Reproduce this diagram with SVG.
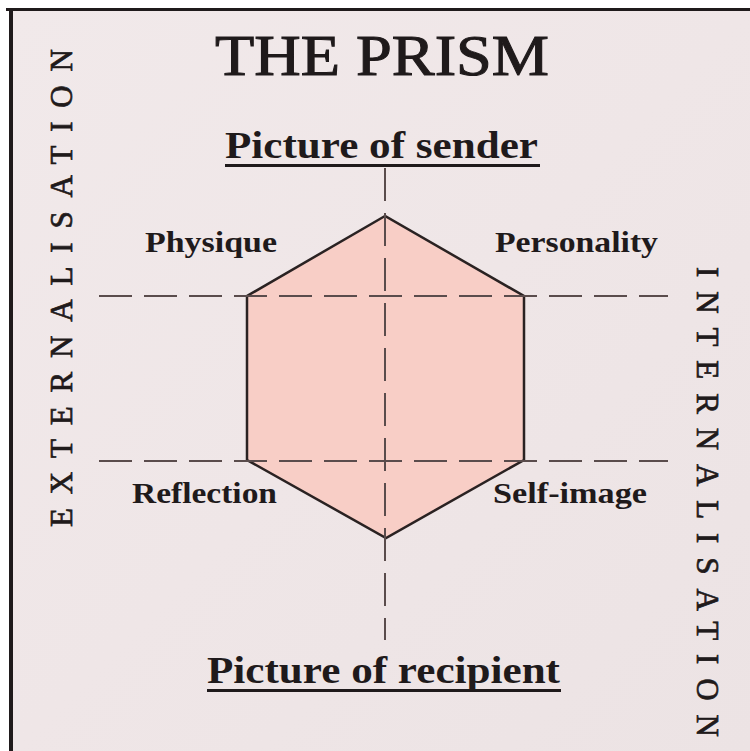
<svg xmlns="http://www.w3.org/2000/svg" width="750" height="751" viewBox="0 0 750 751">
  <style>
    .serif { font-family: "Liberation Serif", "Times New Roman", serif; fill: #1f1a1b; }
    .label { font-size: 29px; font-weight: bold; }
    .heading { font-size: 37px; font-weight: bold; }
    .side { font-size: 31px; stroke: #1f1a1b; stroke-width: 0.7; }
    .dash { stroke: #5a4c4c; stroke-width: 2; stroke-dasharray: 33 12; fill: none; }
    .rule { fill: #1f1a1b; }
  </style>
  <defs>
    <linearGradient id="bg" x1="0" y1="0" x2="1" y2="1">
      <stop offset="0" stop-color="#f1e9ea"/>
      <stop offset="0.5" stop-color="#efe6e7"/>
      <stop offset="1" stop-color="#ece3e4"/>
    </linearGradient>
  </defs>
  <rect x="0" y="0" width="750" height="751" fill="#ffffff"/>
  <rect x="10" y="9" width="740" height="742" fill="url(#bg)"/>
  <rect x="6" y="8" width="744" height="3" class="rule"/>
  <rect x="9" y="8" width="4" height="743" class="rule"/>

  <g id="title">
    <text class="serif" x="382" y="75" font-size="56" text-anchor="middle" textLength="334" lengthAdjust="spacingAndGlyphs" stroke="#1f1a1b" stroke-width="1">THE PRISM</text>
  </g>

  <g id="prism">
    <polygon points="385,216 247,296 247,460 386,538 524,460 524,296" fill="#f8cec6" stroke="#2a2222" stroke-width="2.5" stroke-linejoin="miter"/>
  </g>

  <g id="connectors">
    <line class="dash" x1="99" y1="296" x2="668" y2="296"/>
    <line class="dash" x1="99" y1="461" x2="668" y2="461"/>
    <line class="dash" x1="385" y1="168" x2="385" y2="640"/>
  </g>

  <g id="sender">
    <text class="serif heading" x="225" y="158" textLength="313" lengthAdjust="spacingAndGlyphs">Picture of sender</text>
    <rect x="225" y="164" width="315" height="3" class="rule"/>
  </g>
  <g id="recipient">
    <text class="serif heading" x="207" y="683" textLength="353" lengthAdjust="spacingAndGlyphs">Picture of recipient</text>
    <rect x="207" y="689" width="354" height="3" class="rule"/>
  </g>

  <g id="physique">
    <text class="serif label" x="145" y="252" textLength="132" lengthAdjust="spacingAndGlyphs">Physique</text>
  </g>
  <g id="personality">
    <text class="serif label" x="495" y="252" textLength="163" lengthAdjust="spacingAndGlyphs">Personality</text>
  </g>
  <g id="reflection">
    <text class="serif label" x="132" y="503" textLength="145" lengthAdjust="spacingAndGlyphs">Reflection</text>
  </g>
  <g id="self-image">
    <text class="serif label" x="493" y="503" textLength="154" lengthAdjust="spacingAndGlyphs">Self-image</text>
  </g>

  <g id="externalisation">
    <text class="serif side" transform="translate(72,288) rotate(-90)" text-anchor="middle" textLength="478" lengthAdjust="spacing">EXTERNALISATION</text>
  </g>
  <g id="internalisation">
    <text class="serif side" font-size="33" transform="translate(697,502) rotate(90)" text-anchor="middle" textLength="470" lengthAdjust="spacing">INTERNALISATION</text>
  </g>
</svg>
